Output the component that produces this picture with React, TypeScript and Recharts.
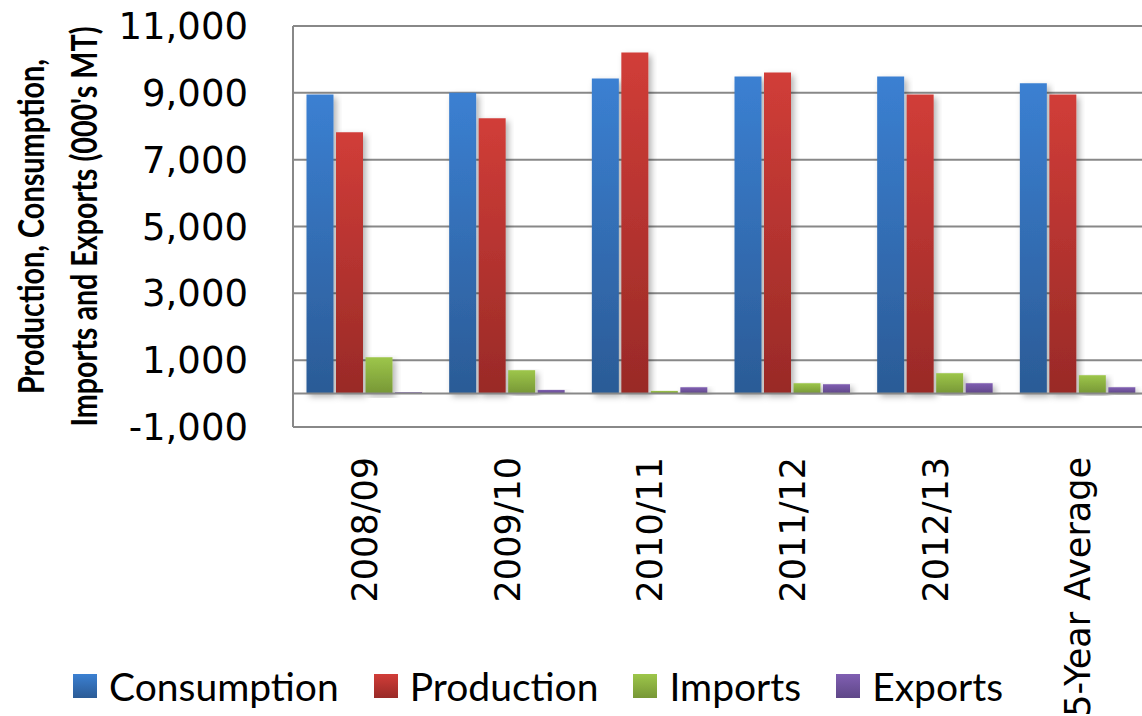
import { Bar, BarChart, CartesianGrid, Label, Legend, ReferenceLine, XAxis, YAxis } from "recharts";

const seasons = ["2008/09", "2009/10", "2010/11", "2011/12", "2012/13", "5-Year Average"];
const consumption = [8950, 9000, 9430, 9490, 9490, 9290];
const production = [7820, 8240, 10210, 9610, 8950, 8950];
const imports = [1090, 700, 80, 310, 610, 550];
const exports = [40, 110, 190, 280, 310, 190];
const yTicks = [-1000, 1000, 3000, 5000, 7000, 9000, 11000];
const titleLines = ["Production, Consumption,", "Imports and Exports (000's MT)"];

const series = [
  { key: "consumption", name: "Consumption", top: "#3b80d2", bottom: "#2b5b96" },
  { key: "production", name: "Production", top: "#d13d38", bottom: "#992a27" },
  { key: "imports", name: "Imports", top: "#9dc64a", bottom: "#779736" },
  { key: "exports", name: "Exports", top: "#805fb2", bottom: "#5f4788" },
];

const data = seasons.map((season, i) => ({
  season,
  consumption: consumption[i],
  production: production[i],
  imports: imports[i],
  exports: exports[i],
}));

const gridColor = "#888888";

function SeasonTick(props: any) {
  const { x, y, payload } = props;
  return (
    <text
      x={x}
      y={y + 30}
      transform={`rotate(-90, ${x}, ${y + 30})`}
      textAnchor="end"
      dy="0.36em"
      fontFamily="DejaVu Sans"
      fontSize={35}
      fill="#000"
    >
      {payload.value}
    </text>
  );
}

// two-line rotated title; squeezed horizontally to get the narrow look of the original
function YTitle(props: any) {
  const vb = props.viewBox || { y: 26, height: 401 };
  const cy = vb.y + vb.height / 2;
  const xs = [44, 97];
  const lengths = [335, 400];
  const squeeze = 0.8;
  return (
    <g>
      {titleLines.map((t, i) => (
        <text
          key={t}
          x={0}
          y={0}
          transform={`translate(${xs[i]}, ${cy}) rotate(-90) scale(${squeeze}, 1)`}
          textAnchor="middle"
          textLength={lengths[i] / squeeze}
          lengthAdjust="spacingAndGlyphs"
          fontFamily="Lato"
          fontWeight={700}
          fontSize={36}
          fill="#000"
        >
          {t}
        </text>
      ))}
    </g>
  );
}

function ChartLegend() {
  return (
    <div
      style={{
        height: 60,
        display: "flex",
        alignItems: "center",
        paddingLeft: 73,
        fontFamily: "Lato",
        fontSize: 39,
        color: "#000",
      }}
    >
      {series.map((s) => (
        <div key={s.key} style={{ display: "flex", alignItems: "center", marginRight: 35 }}>
          <span
            style={{
              width: 24,
              height: 24,
              marginRight: 12,
              background: `linear-gradient(${s.top}, ${s.bottom})`,
            }}
          />
          <span>{s.name}</span>
        </div>
      ))}
    </div>
  );
}

export default function App() {
  return (
    <div
      style={{
        position: "absolute",
        left: 0,
        top: 0,
        width: 1142,
        height: 716,
        overflow: "hidden",
        background: "#fff",
      }}
    >
      <BarChart
        width={1149}
        height={716}
        data={data}
        margin={{ top: 26, right: 0, bottom: 0, left: 0 }}
        barCategoryGap={13.5}
        barGap={2.5}
      >
        <defs>
          {series.map((s) => (
            <linearGradient key={s.key} id={`grad-${s.key}`} x1="0" y1="0" x2="0" y2="1">
              <stop offset="0%" stopColor={s.top} />
              <stop offset="100%" stopColor={s.bottom} />
            </linearGradient>
          ))}
          <filter id="barShadow" x="-20%" y="-5%" width="150%" height="115%">
            <feDropShadow dx="3" dy="3" stdDeviation="3" floodColor="#000" floodOpacity="0.3" />
          </filter>
        </defs>
        <CartesianGrid vertical={false} stroke={gridColor} strokeWidth={2} />
        <XAxis
          dataKey="season"
          interval={0}
          height={229}
          axisLine={false}
          tickLine={false}
          tickSize={0}
          tickMargin={0}
          tick={<SeasonTick />}
        />
        <YAxis
          width={293}
          domain={[-1000, 11000]}
          ticks={yTicks}
          interval={0}
          axisLine={{ stroke: gridColor, strokeWidth: 2 }}
          tickLine={false}
          tickSize={0}
          tickMargin={45}
          tickFormatter={(v: number) => v.toLocaleString("en-US")}
          tick={{ fontFamily: "DejaVu Sans", fontSize: 37, fill: "#000" }}
        >
          <Label content={<YTitle />} />
        </YAxis>
        <ReferenceLine y={0} stroke={gridColor} strokeWidth={2} />
        {series.map((s) => (
          <Bar
            key={s.key}
            dataKey={s.key}
            name={s.name}
            fill={`url(#grad-${s.key})`}
            filter="url(#barShadow)"
            isAnimationActive={false}
          />
        ))}
        <Legend verticalAlign="bottom" content={<ChartLegend />} />
      </BarChart>
    </div>
  );
}
